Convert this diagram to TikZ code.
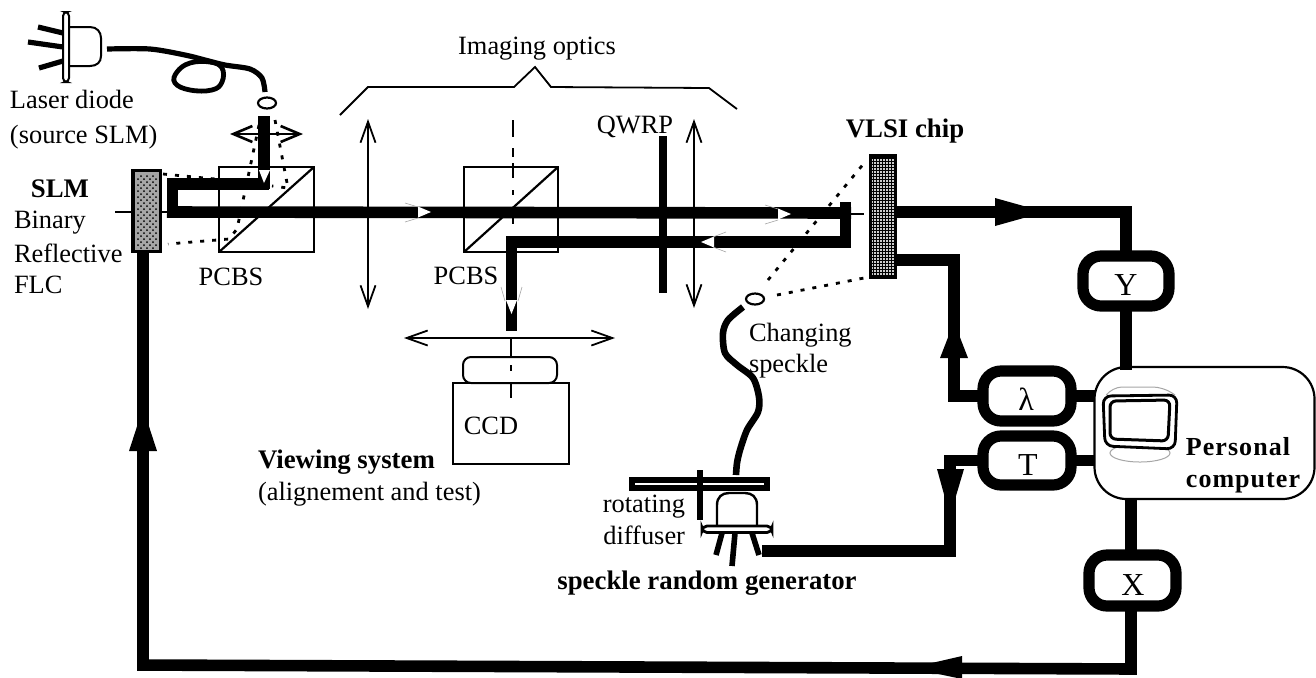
\documentclass[tikz,border=0pt]{standalone}
\usepackage{fontspec}
\setmainfont{Liberation Serif}
\newfontfamily\wideb[LetterSpace=4]{Liberation Serif}
\usetikzlibrary{arrows.meta,patterns,calc,shapes.geometric}
\tikzset{
  x=0.5pt,y=-0.5pt,
  beam/.style={line width=5.8pt,line cap=butt,line join=miter,black},
  wire/.style={line width=5.8pt,line cap=butt,line join=miter,black},
  thinl/.style={line width=.85pt,black},
  dots/.style={line width=1.4pt,dash pattern=on 2pt off 4pt,black},
  lens/.style={line width=.8pt,black,{Straight Barb[length=10.5pt,width=7.5pt,line width=.9pt]}-{Straight Barb[length=10.5pt,width=7.5pt,line width=.9pt]}},
  txt/.style={inner sep=0pt,outer sep=0pt,font=\fontsize{13.2}{15}\selectfont},
  lft/.style={txt,anchor=base west},
  ctr/.style={txt,anchor=base},
  rgt/.style={txt,anchor=base east},
  bld/.style={font=\fontsize{13.4}{15}\selectfont\bfseries},
  ctrl/.style={draw=black,line width=5.6pt,rounded corners=9pt,fill=white,inner sep=0pt,outer sep=0pt},
  headf/.style={fill=black,draw=none},
  headw/.style={fill=white,draw=none},
  ghost/.style={line width=.3pt,gray!70},
  cube/.style={draw=black,line width=1pt,inner sep=0pt,outer sep=0pt},
  ringn/.style={draw=black,line width=1.1pt,ellipse,fill=white,minimum width=9pt,minimum height=5.5pt,inner sep=0pt,outer sep=0pt},
}
\begin{document}
\begin{tikzpicture}
\useasboundingbox (0,0) rectangle (1316,677);
\fill[white] (0,0) rectangle (1316,677);

% dotted rays (beneath the beams)
\draw[dots] (259,125) -- (237,229) -- (229,239) -- (168,244);
\draw[dots] (275,120) -- (288,188) -- (272,186);
\draw[dots] (163,174) -- (215,179);
\node[ringn] (ringB) at (755,299) {};
\draw[dots] (768,280) -- (865,162);
\draw[dots] (777,295) -- (869,277);

% elements placed as nodes
\node[draw=black,line width=1.6pt,fill=gray!70,minimum width=13.6pt,minimum height=40.2pt,inner sep=0pt,outer sep=0pt] (slm) at (146.5,211) {};
\fill[pattern=crosshatch dots,pattern color=black] (136,174) rectangle (157,249);
\node[draw=black,line width=1.6pt,fill=gray!40,minimum width=12.2pt,minimum height=60.5pt,inner sep=0pt,outer sep=0pt] (vlsi) at (883,216.5) {};
\foreach \gx in {873,876,...,894} \draw[line width=.28pt,black] (\gx,157) -- (\gx,276);
\foreach \gy in {158,161,...,276} \draw[line width=.28pt,black] (871,\gy) -- (895,\gy);

\node[cube,minimum width=47.5pt,minimum height=42.5pt] (cubeA) at (266.5,209.5) {};
\node[cube,minimum width=47pt,minimum height=42.5pt] (cubeB) at (511,209.5) {};
\draw[line width=1.1pt] (cubeA.south west) -- (cubeA.north east);
\draw[line width=1.1pt] (cubeB.south west) -- (cubeB.north east);

% thin axis lines
\coordinate (axL) at (115,212);
\draw[thinl] (axL) -- (slm.west |- axL);
\draw[thinl] (slm.east |- axL) -- (170,212);
\coordinate (axR) at (864,214);
\draw[thinl] (845,214) -- (axR);

% lenses and plate
\draw[lens] (368,119) -- (368,309);
\draw[lens] (694,119) -- (694,308);
\draw[lens] (404,338) -- (615,338);
\draw[line width=1.1pt,black,{Straight Barb[length=9.5pt,width=8pt,line width=1.3pt]}-{Straight Barb[length=9.5pt,width=8pt,line width=1.3pt]}] (230,134) -- (303,134);
\draw[line width=3.6pt,black] (663,136) -- (663,293);

% dash-dot axis
\foreach \a/\b in {120/137,148/157,163/178,190/195,218/224}
  \draw[line width=1.2pt] (513,\a) -- (513,\b);

% CCD
\node[draw=black,line width=1pt,fill=white,minimum width=58pt,minimum height=40.5pt,inner sep=0pt,outer sep=0pt] (ccd) at (511,423.5) {};
\node[draw=black,line width=1pt,fill=white,rounded corners=4pt,minimum width=47pt,minimum height=13pt,inner sep=0pt,outer sep=0pt] (cap) at (510,370) {};
\draw[line width=1.2pt] (511,338) -- (cap.north -| 511,338);
\draw[line width=1.2pt] (511,365) -- (511,371);
\draw[line width=1.2pt] (511,382) -- (511,398);

% bracket
\draw[line width=.9pt] (340,115) -- (368,87) -- (514,87) -- (535,67) -- (551,87) -- (709,88) -- (737,109);

% beams
\draw[beam] (264,116) -- (264,189);
\draw[beam] (269,184) -- (172.5,184) -- (172.5,217);
\draw[beam] (167,212) -- (851,213);
\draw[beam] (851,208) -- (845.5,208) -- (845.5,242) -- (511.5,242) -- (511.5,331);
% white beam arrowheads
\fill[headw] (259,170) -- (270,170) -- (264,183) -- cycle;
\fill[headw] (418,206.5) -- (431,212) -- (418,217.5) -- cycle;
\fill[headw] (778,208.5) -- (791,214) -- (778,219.5) -- cycle;
\fill[headw] (714,236.5) -- (701,242) -- (714,247.5) -- cycle;
\fill[headw] (506,300) -- (517,300) -- (511.5,314) -- cycle;
\draw[ghost] (405,203) -- (418,207) (405,222) -- (418,218);
\draw[ghost] (765,205) -- (778,209) (765,224) -- (778,220);
\draw[ghost] (726,232) -- (713,237) (726,252) -- (713,247);
\draw[ghost] (501,287) -- (505,301) (522,287) -- (518,301);

% laser diode
\draw[line width=1pt,rounded corners=2pt,fill=white] (63,12) rectangle (69,82);
\draw[line width=1pt] (69,27) -- (90,27) .. controls (97,27) and (101,32) .. (101,38) -- (101,56) .. controls (101,62) and (97,66) .. (90,66) -- (69,66);
\draw[line width=2.6pt] (38,27) -- (63,33) (28,42) -- (63,47) (39,68) -- (63,61);
\draw[line width=2.6pt] plot[smooth,tension=.5] coordinates {(107,49) (150,49) (185,55) (205,60) (225,65) (250,69) (262,78) (265,92)};
\draw[line width=2.4pt] plot[smooth cycle,tension=.7] coordinates {(210,62) (190,63) (177,72) (175,83) (190,90) (212,90) (222,82) (222,68)};
\node[ringn] (ringA) at (267,103) {};

% speckle fibre
\draw[line width=3.3pt] plot[smooth,tension=.5] coordinates {(743,307) (728,320) (723,333) (725,353) (737,365) (753,378) (759,397) (758,412) (747,430) (740,450) (737,463) (736,475)};

% rotating diffuser
\draw[line width=2.75pt,fill=white] (632,480) rectangle (767,488);
\draw[line width=3pt] (700,470) -- (700,520);
\draw[line width=1.2pt,fill=white] (717,527) -- (717,505) .. controls (717,497) and (722,493) .. (729,493) -- (745,493) .. controls (752,493) and (757,497) .. (757,505) -- (757,527);
\draw[line width=1.4pt,fill=white,rounded corners=2.5pt] (702,526) rectangle (772,532.5);
\draw[line width=2.8pt] (722,533) -- (716,555) (735,533) -- (732,566) (752,533) -- (759,555);

% control boxes
\node[ctrl,minimum width=43pt,minimum height=25pt] (ybox) at (1126,281) {};
\node[ctrl,minimum width=44pt,minimum height=25pt] (lbox) at (1027,396) {};
\node[ctrl,minimum width=44pt,minimum height=24.5pt] (tbox) at (1027,460.5) {};
\node[ctrl,minimum width=43.5pt,minimum height=25.5pt] (xbox) at (1132.5,580.5) {};
\node[draw=black,line width=1.1pt,rounded corners=16pt,fill=white,minimum width=110pt,minimum height=66pt,inner sep=0pt,outer sep=0pt] (pc) at (1204.5,433) {};

% wires
\coordinate (ytop) at (1126,212);
\coordinate (lup) at (954,260);
\coordinate (tdn) at (950,551);
\coordinate (botL) at (143,665);
\coordinate (botR) at (1131,669);
\draw[wire] (vlsi.east |- ytop) -- (ytop) -- (ybox.north);
\draw[wire] (ybox.south) -- (1126,370);
\draw[wire] (vlsi.east |- lup) -- (lup) |- (lbox.west);
\draw[wire] (lbox.east) -- (pc.west |- lbox.east);
\draw[wire] (tbox.east) -- (pc.west |- tbox.east);
\draw[wire] (tbox.west) -| (tdn) -- (762,551);
\draw[wire] (1131,499) -- (1131,553);
\draw[wire] (1131,609) -- (1131,674);
\draw[wire] (1136.8,669) -- (137.2,665);
\draw[wire] (143,670) -- (slm.south -| botL);
\fill[headf] (995,198) -- (1045,212) -- (995,226) -- cycle;
\fill[headf] (940,358) -- (968,358) -- (954,322) -- cycle;
\fill[headf] (937,469) -- (964,469) -- (950,516) -- cycle;
\fill[headf] (129,451) -- (157,451) -- (143,408) -- cycle;
\fill[headf] (962,656) -- (962,679) -- (910,668) -- cycle;

% monitor
\draw[line width=.5pt,gray!70,rounded corners=5pt] (1107,394) -- (1112,387) -- (1163,387) -- (1175,395);
\draw[line width=.5pt,gray!70] (1140,453) ellipse [x radius=30,y radius=9];
\draw[line width=1.4pt,fill=white,rounded corners=4pt] (1103,396) -- (1177,395) -- (1175,449) -- (1105,446) -- cycle;
\draw[line width=1.5pt,rounded corners=3pt] (1110,401) -- (1170,400) -- (1168,441) -- (1110,439) -- cycle;

% labels
\node[lft] (t1) at (10,108) {Laser diode};
\node[lft] (t2) at (10,143) {(source SLM)};
\node[ctr,bld] (t3) at (60,197) {SLM};
\node[lft] (t4) at (14,228) {Binary};
\node[lft] (t5) at (14,262) {Reflective};
\node[lft] (t6) at (14,293) {FLC};
\node[ctr] (t7) at (231,285) {PCBS};
\node[ctr] (t8) at (466,284) {PCBS};
\node[ctr] (t9) at (537,54) {Imaging optics};
\node[ctr] (t10) at (635,133) {QWRP};
\node[ctr,bld] (t11) at (905,137) {VLSI chip};
\node[lft] (t12) at (749,341) {Changing};
\node[lft] (t13) at (749,372) {speckle};
\node[ctr] (t14) at (491,434) {CCD};
\node[lft,bld] (t15) at (258,468) {Viewing system};
\node[lft] (t16) at (258,500) {(alignement and test)};
\node[rgt] (t17) at (685,512) {rotating};
\node[rgt] (t18) at (685,544) {diffuser};
\node[ctr,bld] (t19) at (707,589) {speckle random generator};
\node[ctr,font=\fontsize{16}{18}\selectfont] (t20) at (1126,295) {Y};
\node[ctr,font=\fontsize{16}{18}\selectfont] (t21) at (1026,410) {λ};
\node[ctr,font=\fontsize{16}{18}\selectfont] (t22) at (1028,475) {T};
\node[ctr,font=\fontsize{16}{18}\selectfont] (t23) at (1133,595) {X};
\node[ctr,font=\fontsize{13}{15}\selectfont\wideb\bfseries] (t24) at (1238,455) {Personal};
\node[ctr,font=\fontsize{13}{15}\selectfont\wideb\bfseries] (t25) at (1243,487) {computer};
\end{tikzpicture}
\end{document}
